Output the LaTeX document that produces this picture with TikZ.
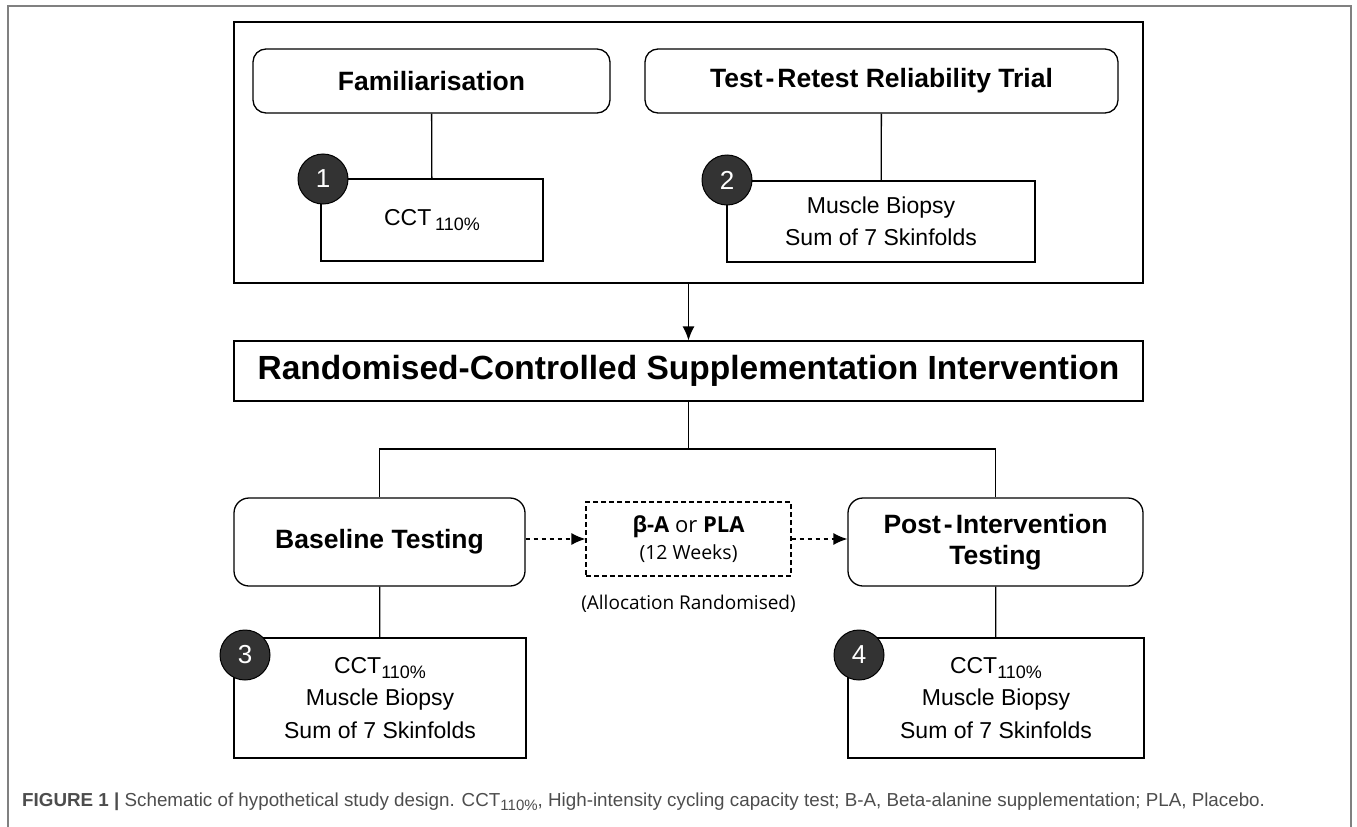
\documentclass[tikz,border=0pt]{standalone}
\usepackage{fontspec}
\setmainfont{Liberation Sans}
\newfontfamily\osans{Open Sans}
\usetikzlibrary{arrows.meta}
\definecolor{capgray}{RGB}{77,77,77}
\definecolor{dotfill}{RGB}{51,51,51}
\newcommand{\lowtext}[3]{\raisebox{-#1}{\fontsize{#2}{#2}\selectfont #3}}
\tikzset{
  phase/.style={draw, line width=1.3pt, rounded corners=13pt, inner sep=0pt, align=center,
    font=\bfseries\fontsize{26.5}{31}\selectfont},
  measure/.style={draw, line width=1.3pt, inner sep=0pt, align=center,
    font=\fontsize{23}{32.5}\selectfont},
  num/.style={circle, draw, line width=1pt, fill=dotfill, text=white, minimum size=50pt,
    inner sep=0pt, font=\fontsize{26}{28}\selectfont},
  link/.style={line width=1.3pt},
  flow/.style={line width=1.3pt, -{Latex[length=14pt,width=12pt]}},
  dflow/.style={line width=1.3pt, dash pattern=on 4pt off 4pt, -{Latex[length=14pt,width=12pt]}}
}
\begin{document}
\begin{tikzpicture}[x=1pt,y=-1pt]
  \useasboundingbox (0,0) rectangle (1357,827);
  % Cadre
  \draw[gray, line width=1.4pt] (8,827) -- (8,6) -- (1351,6) -- (1351,827);

  % Phase preliminaire
  \node[draw, line width=1.3pt, minimum width=909pt, minimum height=261pt] (pre) at (688.5,152.5) {};
  \node[phase, minimum width=357pt, minimum height=64pt] (fam) at (431.5,81) {Familiarisation};
  \node[phase, minimum width=473pt, minimum height=64pt] (ttr) at (881.5,81) {Test\hspace{3pt}-\hspace{3pt}Retest Reliability Trial};
  \node[measure, minimum width=222pt, minimum height=82pt] (m1) at (432,220) {CCT\,\lowtext{5pt}{18}{110\%}};
  \node[measure, minimum width=308pt, minimum height=81pt] (m2) at (881,221.5) {Muscle Biopsy\\Sum of 7 Skinfolds};
  \draw[link] (fam) -- (m1);
  \draw[link] (ttr) -- (m2);
  \node[num] (n1) at (323,179) {1};
  \node[num] (n2) at (727,180) {2};

  % Intervention
  \node[measure, minimum width=909pt, minimum height=60pt, font=\bfseries\fontsize{33.5}{38}\selectfont] (rct) at (688.5,371) {Randomised-Controlled Supplementation Intervention};
  \draw[flow] (pre) -- (rct);
  \coordinate (split) at (688.5,449);

  \node[phase, rounded corners=15pt, minimum width=291pt, minimum height=88pt] (base) at (379.5,542) {Baseline Testing};
  \node[phase, rounded corners=15pt, minimum width=295pt, minimum height=88pt] (post) at (995.5,542) {Post\hspace{3pt}-\hspace{3pt}Intervention\\Testing};
  \node[draw, line width=1.2pt, dash pattern=on 5pt off 3pt, minimum width=205pt, minimum height=74pt,
    inner sep=0pt, align=center, font=\osans\fontsize{22}{27}\selectfont] (alloc) at (688.5,539)
    {\textbf{β-A} or \textbf{PLA}\\{\fontsize{19.5}{24}\selectfont(12 Weeks)}};
  \node[font=\osans\fontsize{19}{24}\selectfont] (note) at (688.5,604) {(Allocation Randomised)};
  \draw[link] (rct) -- (split);
  \draw[link] (split) -| (base);
  \draw[link] (split) -| (post);
  \draw[dflow] (base.east |- alloc.west) -- (alloc);
  \draw[dflow] (alloc) -- (post.west |- alloc.east);

  % Mesures
  \node[measure, minimum width=292pt, minimum height=120pt] (m3) at (380,698) {CCT\lowtext{5pt}{18}{110\%}\\Muscle Biopsy\\Sum of 7 Skinfolds};
  \node[measure, minimum width=296pt, minimum height=120pt] (m4) at (996,698) {CCT\lowtext{5pt}{18}{110\%}\\Muscle Biopsy\\Sum of 7 Skinfolds};
  \draw[link] (base) -- (m3);
  \draw[link] (post) -- (m4);
  \node[num] (n3) at (245,655) {3};
  \node[num] (n4) at (859,655) {4};

  % Legende
  \node[anchor=base west, inner sep=0pt, text=capgray, font=\fontsize{18.8}{22}\selectfont] (cap) at (22,806)
    {\textbf{FIGURE 1 |} Schematic of hypothetical study design. CCT\lowtext{4pt}{15}{110\%}, High-intensity cycling capacity test; B-A, Beta-alanine supplementation; PLA, Placebo.};
\end{tikzpicture}
\end{document}
